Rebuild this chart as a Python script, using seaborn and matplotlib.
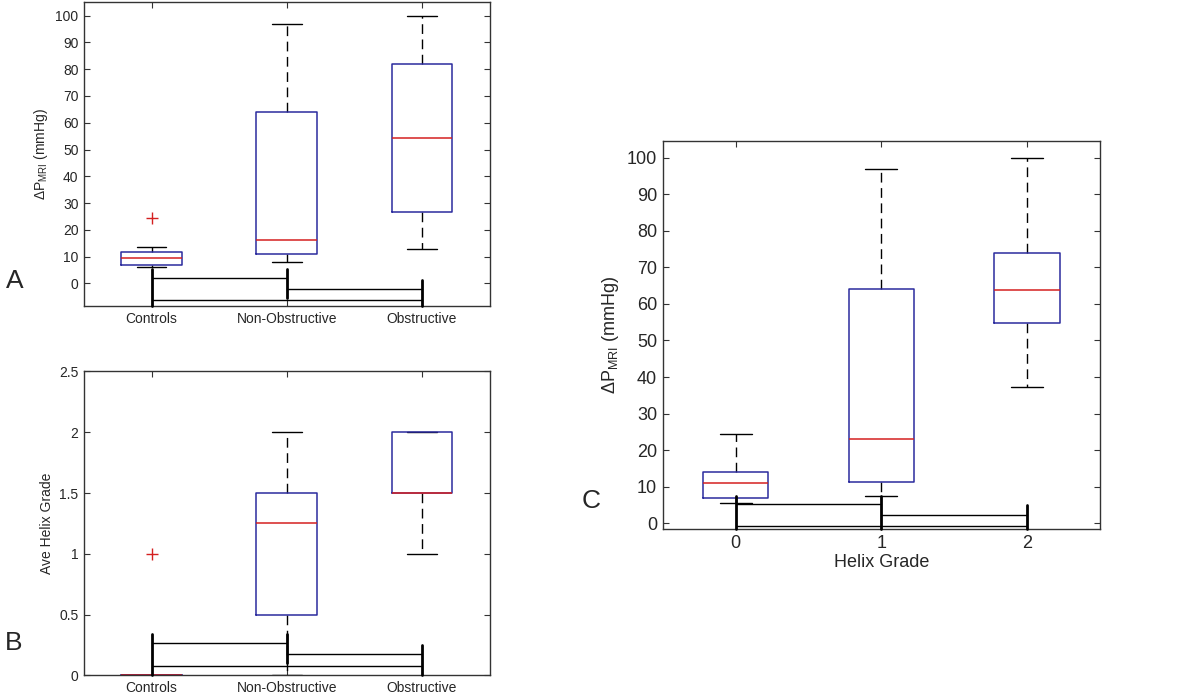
import numpy as np
import pandas as pd
import matplotlib
matplotlib.use("Agg")
import matplotlib.pyplot as plt
import matplotlib.colors as mcolors
import seaborn as sns

# group labels
groups = ["Controls", "Non-Obstructive", "Obstructive"]
grades = ["0", "1", "2"]

# panel A: pressure drop (mmHg) by group (values picked to reproduce the box stats)
dp_controls = [6, 6.5, 7, 8, 9.3, 10.5, 11.7, 13.5, 24.5]
dp_nonobs = [8, 11, 16, 64, 97]
dp_obs = [13, 26.7, 54.3, 82, 100]

# panel B: average helix grade by group
hx_controls = [0, 0, 0, 0, 0, 0, 0, 0, 1]
hx_nonobs = [0, 0.5, 1.25, 1.5, 2]
hx_obs = [1, 1.5, 1.5, 2, 2]

# panel C: pressure drop by helix grade
dp_grade0 = [5.5, 7, 11, 14, 24.5]
dp_grade1 = [7.5, 11.2, 23, 64.2, 97]
dp_grade2 = [37.3, 54.7, 63.8, 74, 100]

# significance brackets: (from, to, level) and end ticks (x, top, bottom)
brackets_a = [(0, 1, 2.1), (1, 2, -2.1), (0, 2, -6.4)]
brackets_b = [(0, 1, 0.264), (1, 2, 0.173), (0, 2, 0.079)]
brackets_c = [(0, 1, 5.2), (1, 2, 2.3), (0, 2, -0.7)]
ticks_a = [(0, 5.5, -8.6), (1, 5.5, -5.5), (2, 1.4, -8.6)]
ticks_b = [(0, 0.34, 0.0), (1, 0.34, 0.1), (2, 0.25, 0.0)]
ticks_c = [(0, 7.5, -1.6), (1, 7.5, -1.6), (2, 5.0, -1.6)]

sns.set_style("ticks")
plt.rcParams["font.family"] = ["Liberation Sans", "DejaVu Sans"]
plt.rcParams["mathtext.fontset"] = "custom"
plt.rcParams["mathtext.rm"] = "Liberation Sans"
plt.rcParams["mathtext.it"] = "Liberation Sans"

blue = "#2b2b9e"
red = "#d42020"
spine = "#333333"

box_kw = dict(
    fill=False, width=0.45, whis=2.0,
    boxprops={"color": blue, "linewidth": 1.1},
    medianprops={"color": red, "linewidth": 1.1},
    whiskerprops={"color": "black", "linestyle": (0, (7, 4)), "linewidth": 1.0},
    capprops={"color": "black", "linewidth": 1.0},
    flierprops={"marker": "+", "markeredgecolor": red, "markersize": 8,
                "markeredgewidth": 1.0},
    capwidths=0.22,
)


def long_form(names, arrays, col):
    rows = []
    for n, arr in zip(names, arrays):
        for v in arr:
            rows.append({"group": n, col: v})
    return pd.DataFrame(rows)


def fix_layers(ax):
    # boxes and medians above whiskers/caps, like the MATLAB original
    for ln in ax.lines:
        c = mcolors.to_hex(ln.get_color())
        if c == blue:
            ln.set_zorder(2.2)
        elif c == red:
            ln.set_zorder(2.3)


def style_axes(ax, fs):
    for s in ax.spines.values():
        s.set_visible(True)
        s.set_color(spine)
        s.set_linewidth(1.0)
        s.set_zorder(3)
    ax.tick_params(direction="in", length=4, width=0.8, color=spine,
                   labelsize=fs, top=True, right=True, pad=4)


def draw_brackets(ax, brackets, ends):
    for a, b, lv in brackets:
        ax.plot([a, b], [lv, lv], color="black", lw=1.0, clip_on=False, zorder=4)
    for x, top, bot in ends:
        ax.plot([x, x], [bot, top], color="black", lw=2.0, clip_on=False, zorder=4)


fig = plt.figure(figsize=(12, 6.93), dpi=100)
ax_a = fig.add_axes([0.07, 0.558, 0.338, 0.439])
ax_b = fig.add_axes([0.07, 0.0255, 0.338, 0.4385])
ax_c = fig.add_axes([0.5523, 0.2367, 0.3644, 0.5603])

# A
df_a = long_form(groups, [dp_controls, dp_nonobs, dp_obs], "dp")
sns.boxplot(data=df_a, x="group", y="dp", order=groups, ax=ax_a, **box_kw)
fix_layers(ax_a)
draw_brackets(ax_a, brackets_a, ticks_a)
ax_a.set_ylim(-8.6, 105.1)
ax_a.set_xlim(-0.5, 2.5)
ax_a.set_yticks(np.arange(0, 101, 10))
ax_a.set_xlabel("")
ax_a.set_ylabel(r"$\Delta$P$_{\rm MRI}$ (mmHg)", fontsize=10)
style_axes(ax_a, 10)

# B
df_b = long_form(groups, [hx_controls, hx_nonobs, hx_obs], "hx")
sns.boxplot(data=df_b, x="group", y="hx", order=groups, ax=ax_b, **box_kw)
fix_layers(ax_b)
draw_brackets(ax_b, brackets_b, ticks_b)
ax_b.set_ylim(0, 2.5)
ax_b.set_xlim(-0.5, 2.5)
ax_b.set_yticks([0, 0.5, 1, 1.5, 2, 2.5])
ax_b.set_yticklabels(["0", "0.5", "1", "1.5", "2", "2.5"])
ax_b.set_xlabel("")
ax_b.set_ylabel("Ave Helix Grade", fontsize=10)
style_axes(ax_b, 10)

# C
df_c = long_form(grades, [dp_grade0, dp_grade1, dp_grade2], "dp")
sns.boxplot(data=df_c, x="group", y="dp", order=grades, ax=ax_c, **box_kw)
fix_layers(ax_c)
draw_brackets(ax_c, brackets_c, ticks_c)
ax_c.set_ylim(-1.6, 104.7)
ax_c.set_xlim(-0.5, 2.5)
ax_c.set_yticks(np.arange(0, 101, 10))
ax_c.set_xlabel("Helix Grade", fontsize=13, labelpad=2)
ax_c.set_ylabel(r"$\Delta$P$_{\rm MRI}$ (mmHg)", fontsize=13)
style_axes(ax_c, 13)

fig.text(0.005, 0.594, "A", fontsize=19, va="center")
fig.text(0.004, 0.072, "B", fontsize=19, va="center")
fig.text(0.485, 0.277, "C", fontsize=19, va="center")

fig.savefig("out.png", dpi=100)
